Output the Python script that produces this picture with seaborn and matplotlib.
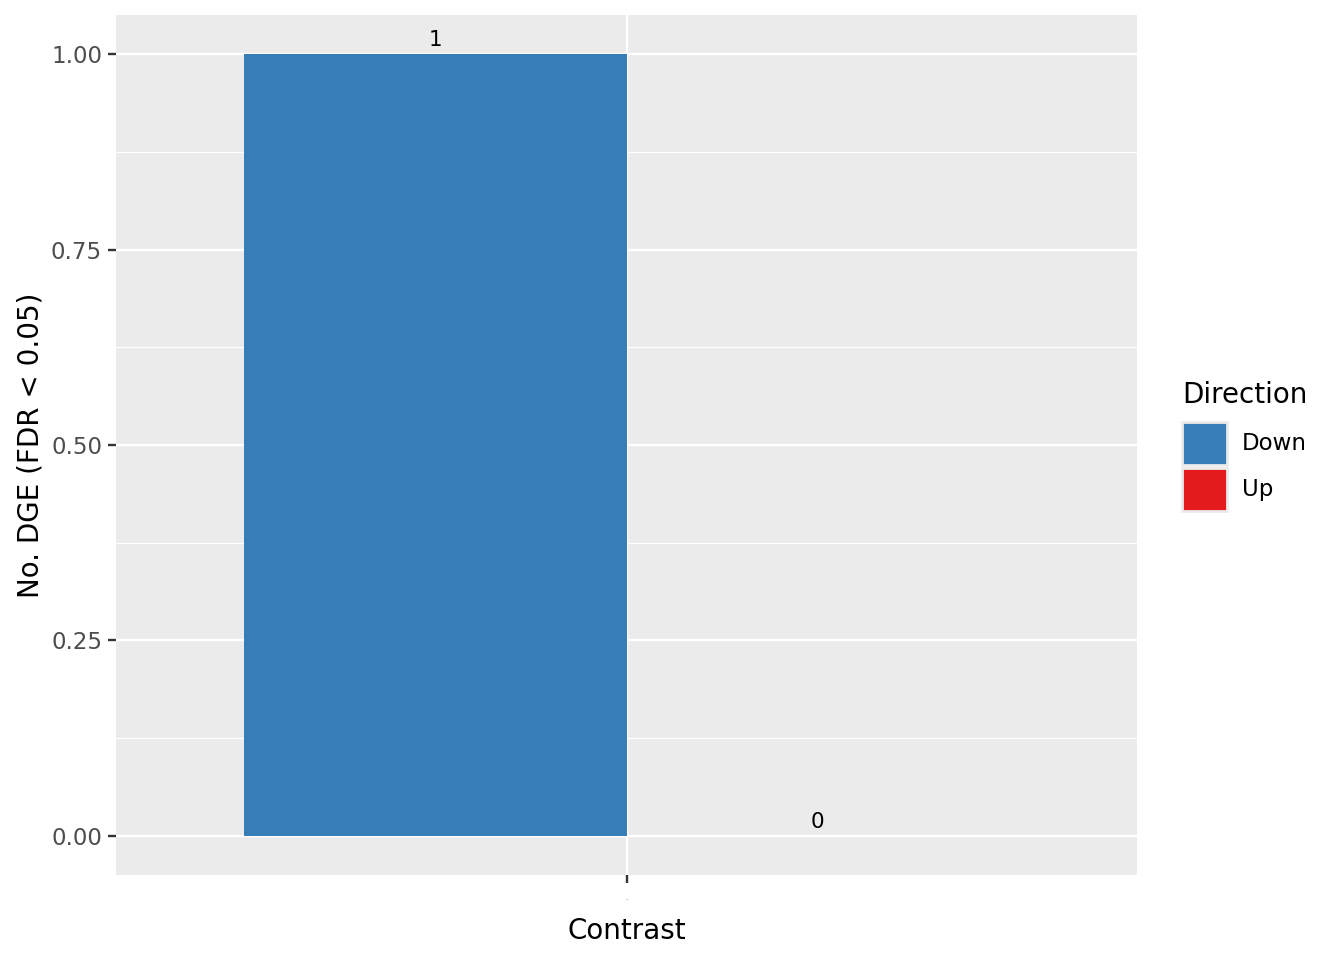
import matplotlib
matplotlib.use("Agg")
import matplotlib.pyplot as plt
import seaborn as sns
import pandas as pd
from matplotlib.ticker import MultipleLocator

contrast = ["·"]
directions = ["Down", "Up"]
counts = [1, 0]
colors = {"Down": "#377EB8", "Up": "#E41A1C"}

df = pd.DataFrame({"Contrast": contrast * len(directions),
                   "Direction": directions,
                   "Count": counts})

sns.set_theme(style="darkgrid")
plt.rcParams["font.family"] = ["DejaVu Sans"]
plt.rcParams["text.color"] = "black"

fig = plt.figure(figsize=(13.44, 9.6), dpi=100)
ax = fig.add_axes([116/1344, 1-875/960, (1137-116)/1344, (875-15)/960])
ax.set_facecolor("#EBEBEB")

sns.barplot(data=df, x="Contrast", y="Count", hue="Direction",
            hue_order=directions, palette=colors, width=0.9, dodge=True,
            saturation=1, ax=ax, edgecolor="none", legend=True)

for c in ax.containers:
    ax.bar_label(c, labels=[f"{int(v)}" for v in c.datavalues], padding=3,
                 fontsize=15.5, color="black")

ax.set_xlim(-0.6, 0.6)
ax.set_ylim(-0.05, 1.05)
ax.yaxis.set_major_locator(MultipleLocator(0.25))
ax.yaxis.set_minor_locator(MultipleLocator(0.125))
ax.yaxis.set_major_formatter(matplotlib.ticker.FormatStrFormatter("%.2f"))
ax.grid(which="major", color="white", linewidth=1.7)
ax.grid(which="minor", axis="y", color="white", linewidth=0.9)
ax.set_axisbelow(True)
for s in ax.spines.values():
    s.set_visible(False)

ax.tick_params(axis="both", which="major", length=6, width=1.7, color="#333333",
               labelsize=16.5, labelcolor="#4D4D4D", pad=4, left=True, bottom=True)
ax.tick_params(axis="y", which="minor", length=0)
ax.tick_params(axis="x", labelsize=5, pad=10)
ax.set_xlabel("Contrast", fontsize=20, color="black", labelpad=10)
ax.set_ylabel("No. DGE (FDR < 0.05)", fontsize=20, color="black", labelpad=5)

handles, labels = ax.get_legend_handles_labels()
ax.get_legend().remove()
for h in handles:
    h.set_edgecolor("#EBEBEB")
    h.set_linewidth(2)
leg = fig.legend(handles, labels, title="Direction", loc="upper left",
                 bbox_to_anchor=(1173/1344, 1-372/960), frameon=False,
                 fontsize=16.5, title_fontsize=20, handlelength=1.95, handleheight=2.5,
                 handletextpad=0.65, labelspacing=0.15, borderaxespad=0)
leg.get_title().set_color("black")
for t in leg.get_texts():
    t.set_color("black")
leg._legend_box.align = "left"
leg._legend_box.sep = 9

fig.savefig("out.png", dpi=100)
